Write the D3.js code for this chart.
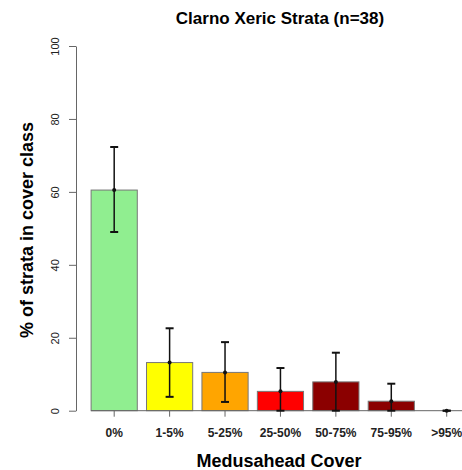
<!DOCTYPE html>
<html>
<head>
<meta charset="utf-8">
<script src="https://cdn.jsdelivr.net/npm/d3@7"></script>
<style>
  body { margin: 0; background: #fff; }
  text { font-family: Arial, "Liberation Sans", sans-serif; }
</style>
</head>
<body>
<div id="chart"></div>
<script>
// cover classes and % of strata (n=38), with error bar limits
var categories = ["0%", "1-5%", "5-25%", "25-50%", "50-75%", "75-95%", ">95%"]
var percents = [60.5, 13.2, 10.5, 5.3, 7.9, 2.6, 0]
var errLow = [49.0, 3.8, 2.4, 0, 0, 0, 0]
var errHigh = [72.3, 22.6, 18.8, 11.7, 15.9, 7.4, 0]
var barColors = ["#90EE90", "#FFFF00", "#FFA500", "#FF0000", "#8B0000", "#8B0000", "#8B0000"]
var yTicks = [0, 20, 40, 60, 80, 100]

var width = 462, height = 470

var svg = d3.select("#chart")
  .append("svg")
  .attr("width", width)
  .attr("height", height)

var y = d3.scaleLinear()
  .domain([0, 100])
  .range([410.7, 46])

var x = d3.scaleBand()
  .domain(categories)
  .range([91.1, 469.8])
  .paddingInner(1 / 6)
  .paddingOuter(0)

var data = categories.map(function(c, i) {
  return { cat: c, value: percents[i], lo: errLow[i], hi: errHigh[i], color: barColors[i] }
})

// title
svg.append("text")
  .attr("x", 280)
  .attr("y", 24)
  .attr("text-anchor", "middle")
  .style("font-size", "17px")
  .style("font-weight", "bold")
  .text("Clarno Xeric Strata (n=38)")

// y axis
var yAxis = svg.append("g")
  .attr("transform", "translate(76,0)")
  .call(d3.axisLeft(y).tickValues(yTicks).tickSize(7).tickSizeOuter(0).tickFormat(d3.format("d")))

yAxis.select(".domain").attr("stroke", "#666")
yAxis.selectAll(".tick line").attr("stroke", "#666")
yAxis.selectAll(".tick text")
  .attr("transform", "rotate(-90)")
  .attr("x", 0)
  .attr("y", -17)
  .attr("dy", 0)
  .attr("text-anchor", "middle")
  .style("font-size", "11px")
  .attr("fill", "#222")

svg.append("text")
  .attr("transform", "translate(33,230) rotate(-90)")
  .attr("text-anchor", "middle")
  .style("font-size", "18px")
  .style("font-weight", "bold")
  .text("% of strata in cover class")

// bars
svg.selectAll(".bar")
  .data(data.filter(d => d.value > 0))
  .enter().append("rect")
  .attr("class", "bar")
  .attr("x", d => x(d.cat))
  .attr("y", d => y(d.value))
  .attr("width", x.bandwidth())
  .attr("height", d => y(0) - y(d.value))
  .attr("fill", d => d.color)
  .attr("stroke", "#777")
  .attr("stroke-width", 1)

// x axis line and ticks
svg.append("line")
  .attr("x1", 91)
  .attr("x2", width)
  .attr("y1", y(0))
  .attr("y2", y(0))
  .attr("stroke", "#666")

var xAxis = svg.append("g")
  .attr("transform", "translate(0," + y(0) + ")")
  .call(d3.axisBottom(x).tickSize(6).tickSizeOuter(0))

xAxis.select(".domain").remove()
xAxis.selectAll(".tick line").attr("stroke", "#666")
xAxis.selectAll(".tick text")
  .attr("y", 22)
  .attr("dy", "0.35em")
  .style("font-size", "12px")
  .style("font-weight", "bold")
  .attr("fill", "#222")

svg.append("text")
  .attr("x", 279)
  .attr("y", 467)
  .attr("text-anchor", "middle")
  .style("font-size", "18px")
  .style("font-weight", "bold")
  .text("Medusahead Cover")

// error bars
var cx = d => x(d.cat) + x.bandwidth() / 2
var err = svg.append("g")

err.selectAll(".err")
  .data(data)
  .enter().append("line")
  .attr("x1", cx)
  .attr("x2", cx)
  .attr("y1", d => y(d.lo))
  .attr("y2", d => y(d.hi))
  .attr("stroke", "#111")
  .attr("stroke-width", 1.5)

err.selectAll(".capHi")
  .data(data)
  .enter().append("line")
  .attr("x1", d => cx(d) - 4)
  .attr("x2", d => cx(d) + 4)
  .attr("y1", d => y(d.hi))
  .attr("y2", d => y(d.hi))
  .attr("stroke", "#111")
  .attr("stroke-width", 2)

err.selectAll(".capLo")
  .data(data)
  .enter().append("line")
  .attr("x1", d => cx(d) - 4)
  .attr("x2", d => cx(d) + 4)
  .attr("y1", d => y(d.lo))
  .attr("y2", d => y(d.lo))
  .attr("stroke", "#111")
  .attr("stroke-width", 2)

err.selectAll(".mean")
  .data(data)
  .enter().append("circle")
  .attr("cx", cx)
  .attr("cy", d => y(d.value))
  .attr("r", 2)
  .attr("fill", "#111")
</script>
</body>
</html>
